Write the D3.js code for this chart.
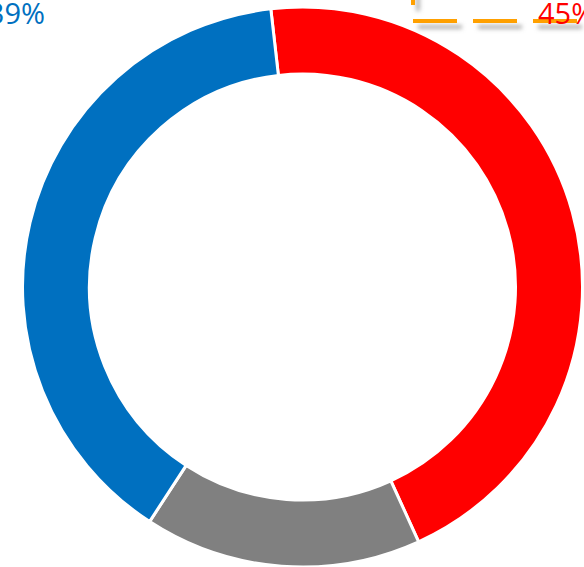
<!DOCTYPE html>
<html><head><meta charset="utf-8">
<script src="https://cdn.jsdelivr.net/npm/d3@7"></script>
<style>html,body{margin:0;padding:0;background:#fff;overflow:hidden}</style>
</head><body>
<svg id="chart" width="584" height="567"></svg>
<script>
const categories = ["Red", "Gray", "Blue"];
const values = [45, 16, 39];
const colors = ["#FF0000", "#808080", "#0070C0"];
const labels = ["45%", "", "39%"];

const W = 584, H = 567;
const cx = 302.5, cy = 287, rOuter = 280, rInner = 213;
const startDeg = -6.5;

const svg = d3.select("#chart");
const defs = svg.append("defs");
const f = defs.append("filter").attr("id", "shadow").attr("x", "-20%").attr("y", "-50%").attr("width", "140%").attr("height", "200%");
f.append("feDropShadow").attr("dx", 5).attr("dy", 6).attr("stdDeviation", 2)
  .attr("flood-color", "#808080").attr("flood-opacity", 0.6);

const pie = d3.pie().sort(null).value(d => d)
  .startAngle(startDeg * Math.PI / 180)
  .endAngle(startDeg * Math.PI / 180 + 2 * Math.PI);
const arc = d3.arc().innerRadius(rInner).outerRadius(rOuter);

const g = svg.append("g").attr("transform", `translate(${cx},${cy})`);
g.selectAll("path").data(pie(values)).join("path")
  .attr("d", arc)
  .attr("fill", (d, i) => colors[i])
  .attr("stroke", "#fff")
  .attr("stroke-width", 3);

// dashed label box (orange) with shadow for the 45% label
svg.append("path")
  .attr("d", "M413,-39 L413,21 L610,21")
  .attr("fill", "none")
  .attr("stroke", "#FFA000")
  .attr("stroke-width", 4)
  .attr("stroke-dasharray", "44,16")
  .attr("filter", "url(#shadow)");

// labels
svg.append("text")
  .attr("x", 45).attr("y", 24)
  .attr("text-anchor", "end")
  .attr("font-family", "'Open Sans', 'Liberation Sans', sans-serif")
  .attr("font-size", 29)
  .attr("fill", colors[2])
  .text(labels[2]);
svg.append("text")
  .attr("x", 538).attr("y", 24)
  .attr("text-anchor", "start")
  .attr("font-family", "'Open Sans', 'Liberation Sans', sans-serif")
  .attr("font-size", 29)
  .attr("fill", colors[0])
  .text(labels[0]);
</script>
</body></html>
